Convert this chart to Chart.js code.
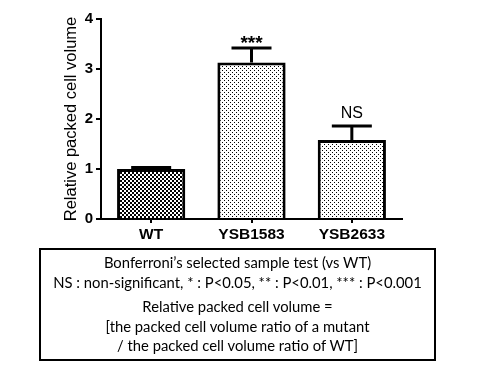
<!DOCTYPE html>
<html>
<head>
<meta charset="utf-8">
<script src="https://cdn.jsdelivr.net/npm/chart.js@4"></script>
<style>
  body { margin: 0; background: #fff; }
  #wrap { position: relative; width: 480px; height: 370px; }
  #note {
    position: absolute; left: 39px; top: 248px; width: 397px; height: 113px;
    border: 2px solid #000; box-sizing: border-box;
    font-family: "Lato", "Open Sans", sans-serif; font-size: 14.8px; color: #000;
    text-align: center; line-height: 19.5px; padding-top: 3px;
  }
  #note p { margin: 0; white-space: nowrap; }
  #note .gap { margin-top: 5px; }
</style>
</head>
<body>
<div id="wrap">
  <canvas id="chart" width="480" height="370"></canvas>
  <div id="note">
    <p>Bonferroni’s selected sample test (vs WT)</p>
    <p>NS : non-significant, * : P&lt;0.05, ** : P&lt;0.01, *** : P&lt;0.001</p>
    <p class="gap">Relative packed cell volume =</p>
    <p>[the packed cell volume ratio of a mutant</p>
    <p>/ the packed cell volume ratio of WT]</p>
  </div>
</div>
<script>
// data
const labels = ["WT", "YSB1583", "YSB2633"];
const values = [1.0, 3.13, 1.58];
const errorTop = [1.03, 3.42, 1.86];
const sigLabels = ["", "***", "NS"];
const yTicks = [0, 1, 2, 3, 4];

// fill patterns
function checkerPattern() {
    const c = document.createElement("canvas");
    c.width = 4; c.height = 4;
    const g = c.getContext("2d");
    g.fillStyle = "#fff"; g.fillRect(0, 0, 4, 4);
    g.fillStyle = "#000";
    g.fillRect(0, 0, 2, 2);
    g.fillRect(2, 2, 2, 2);
    return g.createPattern(c, "repeat");
}

function dotPattern() {
    const c = document.createElement("canvas");
    c.width = 4; c.height = 4;
    const g = c.getContext("2d");
    g.fillStyle = "#fff"; g.fillRect(0, 0, 4, 4);
    g.fillStyle = "#000";
    g.fillRect(0, 0, 1, 1);
    g.fillRect(2, 2, 1, 1);
    return g.createPattern(c, "repeat");
}

const ctx = document.getElementById("chart").getContext("2d");
const fills = [checkerPattern(), dotPattern(), dotPattern()];

// error bars + significance marks
const errorBars = {
    id: "errorBars",
    afterDatasetsDraw(chart) {
        const x = chart.scales.x;
        const y = chart.scales.y;
        const g = chart.ctx;
        g.save();
        g.strokeStyle = "#000";
        g.lineWidth = 3;
        g.lineCap = "butt";
        for (let i = 0; i < values.length; i++) {
            const cx = x.getPixelForValue(i);
            const yb = y.getPixelForValue(values[i]);
            const yt = y.getPixelForValue(errorTop[i]);
            g.beginPath();
            g.moveTo(cx, yb);
            g.lineTo(cx, yt);
            g.moveTo(cx - 20, yt);
            g.lineTo(cx + 20, yt);
            g.stroke();
            if (sigLabels[i]) {
                g.fillStyle = "#000";
                g.textAlign = "center";
                g.textBaseline = "bottom";
                if (sigLabels[i] === "NS") {
                    g.font = "16px 'Liberation Sans', Arial, sans-serif";
                    g.fillText(sigLabels[i], cx, yt - 4);
                } else {
                    g.font = "bold 19px 'Liberation Sans', Arial, sans-serif";
                    g.fillText(sigLabels[i], cx, yt + 5);
                }
            }
        }
        g.restore();
    }
};

Chart.defaults.font.family = "'Liberation Sans', Arial, sans-serif";
Chart.defaults.color = "#000";

const chart = new Chart(ctx, {
    type: "bar",
    data: {
        labels: labels,
        datasets: [{
            data: values,
            backgroundColor: fills,
            borderColor: "#000",
            borderWidth: 3,
            barPercentage: 0.68,
            categoryPercentage: 1.0
        }]
    },
    options: {
        responsive: false,
        animation: false,
        layout: { padding: { top: 19, right: 78, bottom: 121, left: 62 } },
        plugins: { legend: { display: false }, tooltip: { enabled: false } },
        scales: {
            x: {
                offset: true,
                grid: { display: true, drawOnChartArea: false, drawTicks: true, tickLength: 4, color: "#000", lineWidth: 2, offset: false },
                border: { display: true, color: "#000", width: 2 },
                ticks: { font: { size: 15.5, weight: "bold" }, padding: 2, maxRotation: 0 },
                afterFit(s) { s.height = 30; }
            },
            y: {
                min: 0,
                max: 4,
                afterBuildTicks(s) { s.ticks = yTicks.map(v => ({ value: v })); },
                grid: { display: true, drawOnChartArea: false, drawTicks: true, tickLength: 5, color: "#000", lineWidth: 2 },
                border: { display: true, color: "#000", width: 2 },
                ticks: { font: { size: 15, weight: "bold" }, padding: 3 },
                title: { display: true, text: "Relative packed cell volume", font: { size: 16.5 }, padding: { top: 0, bottom: 0 } },
                afterFit(s) { s.width = 39; }
            }
        }
    },
    plugins: [errorBars]
});
</script>
</body>
</html>
